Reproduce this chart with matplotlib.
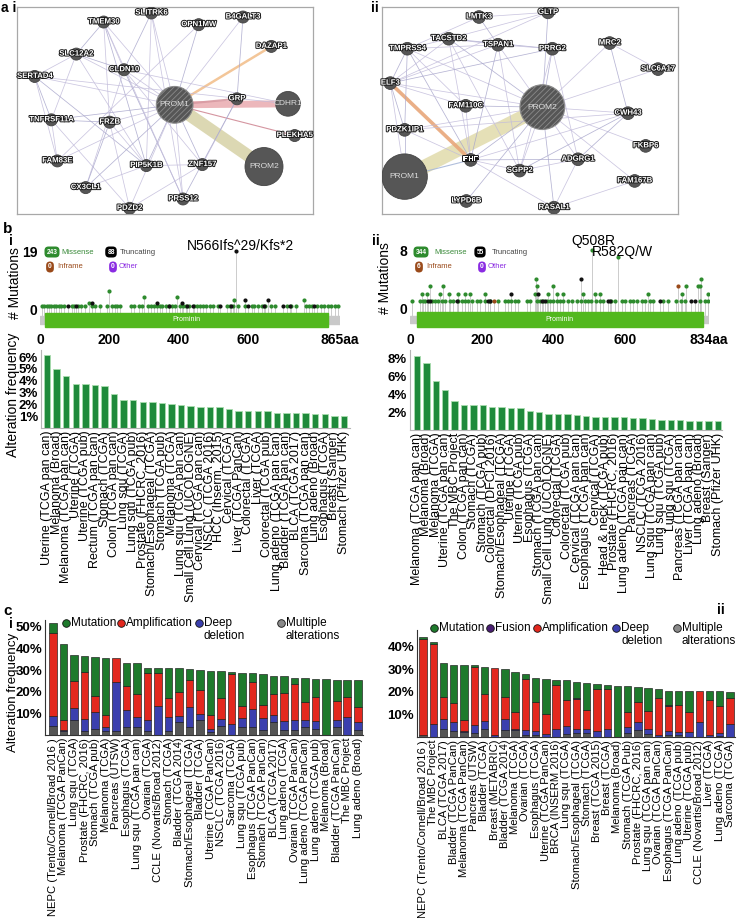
import matplotlib
matplotlib.use('Agg')
import matplotlib.pyplot as plt
import matplotlib.patheffects as pe
from matplotlib.patches import Circle, Rectangle
import numpy as np

plt.rcParams['font.family'] = ['Liberation Sans', 'DejaVu Sans']
plt.rcParams['hatch.linewidth'] = 0.6

# ---------------- DATA ----------------
# a i network (node layout coordinates in the network canvas)
n1_names = ['PROM1', 'PROM2', 'CDHR1', 'GRP', 'PLEKHA5', 'DAZAP1', 'B4GALT3', 'OPN1MW', 'SLITRK6',
            'TMEM30', 'SLC12A2', 'CLDN10', 'SERTAD4', 'TNFRSF11A', 'FRZB', 'FAM83E', 'PIP5K1B',
            'ZNF157', 'CX3CL1', 'PRSS12', 'PDZD2']
n1_x = [525, 793, 865, 712, 885, 815, 730, 597, 455, 312, 230, 373, 105, 155, 330, 173, 440, 608, 258, 550, 390]
n1_y = [315, 500, 312, 297, 407, 140, 52, 75, 40, 67, 163, 210, 230, 360, 367, 483, 497, 494, 563, 597, 625]
n1_size = [55, 57, 37, 18, 18, 18, 18, 18, 18, 18, 18, 18, 18, 18, 18, 18, 18, 18, 18, 18, 18]
n1_edges = [('TMEM30', 'SLC12A2'), ('TMEM30', 'FRZB'), ('TMEM30', 'PROM1'), ('TMEM30', 'PIP5K1B'),
            ('TMEM30', 'CLDN10'), ('SLITRK6', 'PROM1'), ('SLITRK6', 'CLDN10'), ('SLITRK6', 'PIP5K1B'),
            ('SLITRK6', 'PRSS12'), ('OPN1MW', 'PROM1'), ('OPN1MW', 'FAM83E'), ('B4GALT3', 'PROM1'),
            ('B4GALT3', 'GRP'), ('SLC12A2', 'SERTAD4'), ('SLC12A2', 'TNFRSF11A'), ('SLC12A2', 'CLDN10'),
            ('SLC12A2', 'PIP5K1B'), ('SLC12A2', 'PROM1'), ('SERTAD4', 'TNFRSF11A'), ('SERTAD4', 'FAM83E'),
            ('SERTAD4', 'PROM1'), ('SERTAD4', 'PIP5K1B'), ('CLDN10', 'PROM1'), ('CLDN10', 'CDHR1'),
            ('CLDN10', 'PRSS12'), ('CLDN10', 'CX3CL1'), ('CLDN10', 'ZNF157'), ('TNFRSF11A', 'PROM1'),
            ('TNFRSF11A', 'FAM83E'), ('TNFRSF11A', 'PDZD2'), ('TNFRSF11A', 'FRZB'), ('FRZB', 'PROM1'),
            ('FRZB', 'PIP5K1B'), ('FRZB', 'CX3CL1'), ('FRZB', 'PDZD2'), ('FAM83E', 'PROM1'),
            ('PIP5K1B', 'PROM1'), ('PIP5K1B', 'ZNF157'), ('PIP5K1B', 'CX3CL1'), ('ZNF157', 'PROM1'),
            ('ZNF157', 'GRP'), ('PRSS12', 'PROM1'), ('PRSS12', 'GRP'), ('PDZD2', 'PROM1'),
            ('PDZD2', 'ZNF157'), ('CX3CL1', 'PROM1'), ('SERTAD4', 'CDHR1'), ('TMEM30', 'PRSS12')]
n1_special = [('PROM1', 'PROM2', '#d9d4ab', 9.0), ('PROM1', 'CDHR1', '#eab0b4', 5.0),
              ('PROM1', 'GRP', '#d89aa2', 1.5), ('PROM1', 'PLEKHA5', '#d08a96', 0.8),
              ('PROM1', 'DAZAP1', '#f2c08e', 1.8)]

# a ii network
n2_names = ['PROM2', 'PROM1', 'GLTP', 'LMTK3', 'TACSTD2', 'TMPRSS4', 'TSPAN1', 'PRRG2', 'MRC2', 'SLC6A17',
            'ELF3', 'FAM110C', 'CWH43', 'PDZK1IP1', 'FKBP6', 'EHF', 'ADGRG1', 'SGPP2', 'FAM167B',
            'LYPD6B', 'RASAL1']
n2_x = [518, 105, 535, 328, 237, 113, 385, 548, 720, 865, 62, 288, 775, 105, 828, 303, 625, 450, 795, 290, 553]
n2_y = [322, 530, 38, 52, 117, 147, 135, 147, 130, 208, 250, 318, 340, 390, 438, 480, 478, 512, 543, 603, 623]
n2_size = [67, 68, 19, 19, 19, 19, 19, 19, 19, 19, 19, 19, 19, 19, 19, 19, 19, 19, 19, 19, 19]
n2_edges = [('TMPRSS4', 'ELF3'), ('TMPRSS4', 'TACSTD2'), ('TMPRSS4', 'TSPAN1'), ('TMPRSS4', 'EHF'),
            ('TMPRSS4', 'PROM2'), ('TMPRSS4', 'FAM110C'), ('TMPRSS4', 'PDZK1IP1'), ('TACSTD2', 'TSPAN1'),
            ('TACSTD2', 'ELF3'), ('TACSTD2', 'PROM2'), ('TACSTD2', 'EHF'), ('TACSTD2', 'SGPP2'),
            ('TACSTD2', 'PRRG2'), ('TSPAN1', 'PROM2'), ('TSPAN1', 'SGPP2'), ('TSPAN1', 'EHF'),
            ('TSPAN1', 'ELF3'), ('TSPAN1', 'PRRG2'), ('TSPAN1', 'LMTK3'), ('LMTK3', 'GLTP'),
            ('LMTK3', 'TMPRSS4'), ('GLTP', 'PROM2'), ('GLTP', 'TACSTD2'), ('GLTP', 'ELF3'),
            ('PRRG2', 'PROM2'), ('PRRG2', 'ADGRG1'), ('PRRG2', 'SGPP2'), ('PRRG2', 'ELF3'),
            ('MRC2', 'SLC6A17'), ('MRC2', 'PROM2'), ('MRC2', 'CWH43'), ('SLC6A17', 'PROM2'),
            ('ELF3', 'PROM2'), ('ELF3', 'PDZK1IP1'), ('ELF3', 'FAM110C'), ('ELF3', 'PROM1'),
            ('FAM110C', 'PROM2'), ('FAM110C', 'EHF'), ('PROM2', 'CWH43'), ('PROM2', 'EHF'),
            ('PROM2', 'SGPP2'), ('PROM2', 'ADGRG1'), ('PROM2', 'RASAL1'), ('PROM2', 'FKBP6'),
            ('PROM2', 'FAM167B'), ('PROM2', 'LYPD6B'), ('PROM2', 'PDZK1IP1'), ('PDZK1IP1', 'EHF'),
            ('PDZK1IP1', 'PROM1'), ('EHF', 'SGPP2'), ('EHF', 'RASAL1'), ('EHF', 'ADGRG1'),
            ('EHF', 'CWH43'), ('SGPP2', 'ADGRG1'), ('ADGRG1', 'CWH43'), ('ADGRG1', 'RASAL1'),
            ('RASAL1', 'FAM167B'), ('CWH43', 'SGPP2'), ('PDZK1IP1', 'CWH43')]
n2_special = [('PROM1', 'PROM2', '#e3ddb0', 10.0), ('ELF3', 'EHF', '#e8a77a', 2.6),
              ('EHF', 'PROM1', '#a8b8d8', 0.8)]

# b i lollipop (PROM1, 865 aa)
b1_length = 865
b1_domain = (15, 830)
b1_mis_pos = [5, 12, 19, 26, 33, 40, 47, 54, 61, 70, 91, 98, 110, 118, 130, 140, 150, 160, 172, 192, 200,
              207, 215, 222, 230, 262, 270, 285, 295, 300, 312, 320, 328, 336, 345, 352, 362, 372, 380, 388,
              395, 405, 412, 420, 430, 445, 452, 460, 470, 480, 490, 500, 512, 540, 548, 556, 560, 570, 590,
              610, 618, 630, 640, 650, 665, 678, 712, 725, 738, 760, 768, 775, 785, 800, 810, 820, 830,
              840, 850, 858]
b1_mis_cnt = [1, 1, 1, 1, 1, 1, 1, 1, 1, 1, 1, 1, 1, 1, 1, 2, 1, 1, 1, 1, 6,
              1, 1, 1, 1, 1, 1, 1, 1, 4, 1, 1, 1, 1, 1, 1, 1, 1, 1, 1,
              4, 1, 1, 1, 1, 1, 1, 1, 1, 1, 1, 1, 1, 1, 1, 1, 3, 1, 1,
              1, 1, 1, 1, 1, 1, 1, 1, 1, 1, 3, 1, 1, 1, 1, 1, 1, 1,
              1, 1, 1]
b1_trunc_pos = [80, 103, 150, 338, 372, 410, 425, 440, 520, 550, 566, 590, 600, 645, 658, 700, 720, 790]
b1_trunc_cnt = [1, 1, 2, 2, 1, 2, 1, 1, 1, 1, 19, 3, 1, 1, 3, 1, 1, 1]

# b ii lollipop (PROM2, 834 aa)
b2_length = 834
b2_domain = (19, 817)
b2_mis_pos = [5, 28, 33, 35, 42, 48, 56, 60, 70, 79, 84, 88, 93, 98, 110, 111, 121, 135, 135, 144, 153, 153,
              163, 167, 172, 186, 195, 209, 209, 223, 246, 265, 274, 283, 293, 302, 325, 334, 348, 351, 353,
              353, 362, 372, 381, 386, 390, 399, 399, 409, 409, 418, 427, 427, 441, 451, 465, 478, 483, 488,
              497, 506, 508, 516, 520, 530, 530, 539, 562, 571, 580, 590, 599, 613, 622, 632, 646, 655, 664,
              669, 678, 706, 720, 743, 757, 759, 766, 771, 804, 808, 810, 813, 822, 830, 830]
b2_mis_cnt = [1, 1, 2, 1, 1, 2, 3, 1, 1, 1, 2, 1, 3, 1, 2, 1, 1, 1, 2, 1, 1, 2,
              1, 2, 1, 1, 1, 1, 2, 1, 1, 1, 1, 1, 1, 1, 1, 1, 2, 4, 1,
              3, 1, 1, 1, 2, 1, 1, 3, 1, 2, 1, 1, 2, 1, 1, 1, 1, 2, 1,
              1, 1, 8, 2, 1, 1, 2, 1, 1, 1, 7, 1, 1, 1, 1, 1, 1, 1, 2,
              1, 1, 1, 1, 1, 1, 2, 1, 3, 3, 1, 3, 4, 1, 1, 2]
b2_trunc_pos = [51, 56, 130, 218, 223, 283, 358, 367, 376, 476, 553, 557, 697, 785, 794]
b2_trunc_cnt = [1, 1, 1, 1, 1, 2, 2, 1, 1, 4, 1, 1, 1, 1, 1]
b2_infr_pos = [235, 748]
b2_infr_cnt = [1, 3]

# b i bars (PROM1 alteration frequency, %)
b1_cats = ['Uterine (TCGA pan can)', 'Melanoma (Broad)', 'Melanoma (TCGA pan can)', 'Uterine (TCGA)',
           'Uterine (TCGA pub)', 'Rectum (TCGA pan can)', 'Stomach (TCGA)', 'Colon (TCGA pan can)',
           'Lung squ (TCGA)', 'Lung squ (TCGA pub)', 'Prostate (FHCRC, 2016)', 'Stomach/Esophageal (TCGA)',
           'Stomach (TCGA pub)', 'Melanoma (TCGA)', 'Lung squ (TCGA pan can)', 'Small Cell Lung (UCOLOGNE)',
           'Cervical (TCGA pan can)', 'NSCLC (TCGA 2016)', 'HCC (Inserm, 2015)', 'Cervical (TCGA)',
           'Liver (TCGA PanCan)', 'Colorectal (TCGA)', 'Liver (TCGA)', 'Colorectal (TCGA pub)',
           'Lung adeno (TCGA pan can)', 'Bladder (TCGA pan can)', 'BLCA (TCGA 2017)',
           'Sarcoma (TCGA pan can)', 'Lung adeno (Broad)', 'Esophagus (TCGA)', 'Breast (Sanger)',
           'Stomach (Pfizer UHK)']
b1_vals = [6.2, 5.0, 4.4, 3.7, 3.7, 3.65, 3.55, 2.9, 2.35, 2.35, 2.2, 2.2, 2.15, 2.0, 1.95, 1.9, 1.8, 1.75,
           1.75, 1.6, 1.4, 1.4, 1.4, 1.4, 1.3, 1.3, 1.3, 1.3, 1.2, 1.15, 1.05, 1.05]

# b ii bars (PROM2 alteration frequency, %)
b2_cats = ['Melanoma (TCGA pan can)', 'Melanoma (Broad)', 'Melanoma (TCGA)', 'Uterine (TCGA pan can)',
           'The MBC Project', 'Colon (TCGA pan can)', 'Stomach (TCGA)', 'Stomach (TCGA pub)',
           'Colorectal (DFCI 2016)', 'Stomach/Esophageal (TCGA)', 'Uterine (TCGA)', 'Uterine (TCGA pub)',
           'Esophagus (TCGA)', 'Stomach (TCGA pan can)', 'Small Cell Lung (UCOLOGNE)', 'Colorectal (TCGA)',
           'Colorectal (TCGA pub)', 'Cervical (TCGA pan can)', 'Esophagus (TCGA pan can)', 'Cervical (TCGA)',
           'Head & neck (TCGA pub)', 'Prostate (FHCRC, 2016)', 'Lung adeno (TCGA pan can)',
           'Pancreas (TCGA)', 'NSCLC (TCGA 2016)', 'Lung squ (TCGA pan can)', 'Lung squ (TCGA pub)',
           'Lung squ (TCGA)', 'Pancreas (TCGA pan can)', 'Liver (TCGA pan can)', 'Lung adeno (Broad)',
           'Breast (Sanger)', 'Stomach (Pfizer UHK)']
b2_vals = [8.2, 7.4, 5.4, 4.4, 3.2, 2.8, 2.8, 2.8, 2.6, 2.55, 2.45, 2.45, 2.15, 2.05, 1.8, 1.75, 1.75, 1.7,
           1.6, 1.5, 1.4, 1.4, 1.4, 1.3, 1.3, 1.2, 1.1, 1.1, 1.1, 1.05, 1.05, 1.0, 0.95]

# c i stacked bars (%)
c1_cats = ['NEPC (Trento/Cornell/Broad 2016 )', 'Melanoma (TCGA PanCan)', 'Lung squ (TCGA)',
           'Prostate (FHCRC, 2016)', 'Stomach (TCGA pub)', 'Melanoma (TCGA)', 'Pancreas (UTSW)',
           'Esophagus (TCGA)', 'Lung squ (TCGA pan can)', 'Ovarian (TCGA)', 'CCLE (Novartis/Broad 2012)',
           'Stomach (TCGA)', 'Bladder (TCGA 2014)', 'Stomach/Esophageal (TCGA)', 'Bladder (TCGA)',
           'Uterine (TCGA PanCan)', 'NSCLC (TCGA 2016)', 'Sarcoma (TCGA)', 'Lung squ (TCGA pub)',
           'Esophagus (TCGA PanCan)', 'Stomach (TCGA PanCan)', 'BLCA (TCGA 2017)', 'Lung adeno (TCGA)',
           'Ovarian (TCGA PanCan)', 'Lung adeno (TCGA PanCan)', 'Lung adeno (TCGA pub)',
           'Melanoma (Broad)', 'Bladder (TCGA PanCan)', 'The MBC Project', 'Lung adeno (Broad)']
c1_multiple = [4.2, 1.8, 7.0, 1.8, 2.8, 2.0, 2.0, 3.5, 3.6, 2.0, 0.0, 2.0, 6.0, 3.6, 6.9, 1.5, 4.0, 0.0,
               3.8, 3.5, 2.3, 5.8, 2.3, 2.3, 3.6, 3.0, 0.0, 3.6, 0.0, 2.3]
c1_deepdel = [4.6, 0.5, 5.6, 5.6, 7.7, 1.5, 22.3, 8.0, 4.9, 4.9, 13.5, 6.5, 2.8, 9.2, 2.8, 1.5, 3.4, 5.0,
              3.9, 8.3, 5.4, 3.4, 4.2, 4.7, 3.4, 3.6, 0.0, 3.3, 8.5, 3.5]
c1_amp = [38.6, 4.6, 12.4, 21.8, 7.5, 5.7, 11.4, 11.1, 10.4, 21.6, 15.4, 8.4, 11.2, 12.6, 11.1, 6.2, 9.5,
          23.2, 5.7, 12.7, 6.3, 9.8, 12.7, 16.4, 8.4, 11.1, 0.0, 8.9, 9.2, 7.0]
c1_mut = [4.6, 35.1, 11.9, 7.4, 18.2, 26.5, 0.0, 10.9, 14.5, 2.7, 2.2, 13.9, 10.8, 5.1, 9.2, 20.5, 12.6,
          1.0, 15.1, 4.0, 14.0, 8.2, 8.0, 3.2, 11.2, 8.1, 25.8, 9.6, 7.7, 12.6]

# c ii stacked bars (%)
c2_cats = ['NEPC (Trento/Cornell/Broad 2016 )', 'The MBC Project', 'BLCA (TCGA 2017)',
           'Bladder (TCGA PanCan)', 'Melanoma (TCGA PanCan)', 'Pancreas (UTSW)', 'Bladder (TCGA)',
           'Breast (METABRIC)', 'Bladder (TCGA 2014)', 'Melanoma (TCGA)', 'Ovarian (TCGA)',
           'Esophagus (TCGA)', 'Uterine (TCGA PanCan)', 'BRCA (INSERM 2016)', 'Lung squ (TCGA)',
           'Stomach/Esophageal (TCGA)', 'Stomach (TCGA)', 'Breast (TCGA 2015)', 'Breast (TCGA)',
           'Melanoma (Broad)', 'Stomach (TCGA Pub)', 'Prostate (FHCRC, 2016)', 'Lung squ (TCGA pan can)',
           'Ovarian (TCGA PanCan)', 'Esophagus (TCGA PanCan)', 'Lung adeno (TCGA pub)',
           'Uterine (TCGA pub)', 'CCLE (Novartis/Broad 2012)', 'Liver (TCGA)', 'Lung adeno (TCGA)',
           'Sarcoma (TCGA)']
c2_multiple = [1.0, 0.0, 3.7, 2.5, 2.0, 1.9, 3.4, 0.0, 3.3, 3.0, 1.0, 1.0, 0.0, 0.0, 1.5, 1.8, 1.8, 0.0,
               0.0, 0.0, 1.9, 3.0, 1.5, 0.0, 1.0, 0.7, 0.0, 0.0, 0.0, 0.4, 0.0]
c2_deepdel = [0.0, 5.7, 4.1, 4.2, 0.5, 3.6, 3.6, 0.7, 4.5, 0.7, 2.0, 1.5, 1.5, 3.7, 3.3, 1.9, 1.9, 2.5,
              3.7, 0.0, 2.6, 3.7, 2.2, 1.0, 1.7, 1.5, 2.2, 6.7, 0.7, 1.5, 5.7]
c2_amp = [42.7, 35.6, 10.1, 8.5, 5.0, 25.5, 12.0, 29.9, 10.1, 7.2, 22.7, 13.2, 8.6, 19.4, 11.6, 13.2, 8.2,
          18.7, 17.5, 0.0, 6.7, 8.7, 7.9, 16.5, 11.2, 12.0, 9.0, 13.9, 15.7, 11.8, 11.8]
c2_fusion = [0.0, 0.0, 0.0, 0.0, 0.0, 0.0, 0.0, 0.0, 0.0, 0.0, 0.0, 0.0, 0.0, 0.0, 0.0, 0.4, 0.0, 0.0,
             0.0, 0.0, 0.0, 0.0, 0.0, 0.0, 0.4, 0.0, 0.0, 0.0, 0.0, 0.0, 0.0]
c2_mut = [0.8, 0.9, 14.9, 16.9, 24.3, 0.8, 12.2, 0.0, 12.4, 17.9, 2.2, 10.7, 15.7, 2.0, 8.7, 7.1, 12.0, 2.2,
          1.9, 22.8, 11.6, 7.0, 10.0, 3.7, 6.3, 6.4, 9.4, 0.0, 4.0, 6.7, 2.4]

# ---------------- STYLE ----------------
W, H = 738, 918
fig = plt.figure(figsize=(W / 100, H / 100), dpi=100)


def fax(x0, y0, x1, y1):
    return fig.add_axes([x0 / W, 1 - y1 / H, (x1 - x0) / W, (y1 - y0) / H])


NODE = '#565656'
EDGE = '#c2bcdb'


def network(ax, names, xs, ys, sizes, edges, special, box, hatched):
    pos = {n: (x, y) for n, x, y in zip(names, xs, ys)}
    ax.set_xlim(box[0], box[1])
    ax.set_ylim(box[3], box[2])
    ax.set_xticks([])
    ax.set_yticks([])
    for s in ax.spines.values():
        s.set_color('#a8a8a8')
        s.set_linewidth(0.9)
    for a, b, col, lw in special:
        ax.plot([pos[a][0], pos[b][0]], [pos[a][1], pos[b][1]], color=col, lw=lw,
                solid_capstyle='butt', zorder=1, alpha=0.9)
    for i, (a, b) in enumerate(edges):
        col = EDGE if i % 3 else '#a9a7cc'
        ax.plot([pos[a][0], pos[b][0]], [pos[a][1], pos[b][1]], color=col, lw=0.55, zorder=1.5, alpha=0.85)
    for n, x, y, r in zip(names, xs, ys, sizes):
        big = r > 30
        if n == hatched:
            c = Circle((x, y), r, facecolor=NODE, edgecolor='#8a8a8a', hatch='//////', lw=0.8, zorder=3)
        else:
            c = Circle((x, y), r, facecolor=NODE, edgecolor='#444444', lw=0.6, zorder=3)
        ax.add_patch(c)
        if big:
            ax.text(x, y, n, ha='center', va='center', fontsize=6, color='#dddddd', zorder=4)
        else:
            ax.text(x, y, n, ha='center', va='center', fontsize=5.6, color='white', fontweight='bold',
                    zorder=4, path_effects=[pe.withStroke(linewidth=1.4, foreground='#1a1a1a')])


ax = fax(17, 7, 313, 214)
network(ax, n1_names, n1_x, n1_y, n1_size, n1_edges, n1_special, (52, 940, 22, 642), 'PROM1')
ax = fax(382, 7, 678, 214)
network(ax, n2_names, n2_x, n2_y, n2_size, n2_edges, n2_special, (37, 925, 22, 642), 'PROM2')

MIS = '#2e8b2e'
TRU = '#111111'
INF = '#9a4a1a'


def lollipop(ax, length, ylim, yticks, domain, bb, series):
    ax.set_xlim(0, length)
    ax.set_ylim(*ylim)
    for s in ax.spines.values():
        s.set_visible(False)
    ax.add_patch(Rectangle((0, bb[0]), length, bb[1] - bb[0], color='#c9c9c9', zorder=1))
    ax.add_patch(Rectangle((domain[0], domain[2]), domain[1] - domain[0], domain[3] - domain[2],
                           color='#52b81e', zorder=2))
    ax.text((domain[0] + domain[1]) / 2, (domain[2] + domain[3]) / 2, 'Prominin', color='white',
            fontsize=5, ha='center', va='center', zorder=3)
    for pos, cnt, col in series:
        for p, c in zip(pos, cnt):
            ax.plot([p, p], [bb[1], c], color='#c4c4c4', lw=0.6, zorder=0.5)
    for pos, cnt, col in series:
        ax.scatter(pos, cnt, s=9, color=col, zorder=4, linewidths=0)
    ax.set_yticks(yticks)
    ax.set_yticklabels([str(t) for t in yticks], fontsize=10, fontweight='bold')
    ticks = [0, 200, 400, 600, length]
    ax.set_xticks(ticks)
    ax.set_xticklabels(['0', '200', '400', '600', f'{length}aa'], fontsize=10, fontweight='bold')
    ax.tick_params(length=0, pad=2)
    ax.tick_params(axis='x', pad=3)


ax = fax(40, 245, 340, 329)
lollipop(ax, b1_length, (-6.56, 21), [0, 19], (b1_domain[0], b1_domain[1], -5.9, -1.3), (-4.9, -2.3),
         [(b1_mis_pos, b1_mis_cnt, MIS), (b1_trunc_pos, b1_trunc_cnt, TRU)])
ax = fax(410, 245, 709, 329)
lollipop(ax, b2_length, (-2.9, 8.7), [0, 8], (b2_domain[0], b2_domain[1], -2.66, -0.5), (-2.1, -1.1),
         [(b2_mis_pos, b2_mis_cnt, MIS), (b2_trunc_pos, b2_trunc_cnt, TRU), (b2_infr_pos, b2_infr_cnt, INF)])


def freqbars(ax, cats, vals, xlim, ylim, yticks):
    x = np.arange(len(cats))
    ax.bar(x, vals, width=0.68, color='#1f8a3b', edgecolor='#a9dcae', linewidth=0.6)
    ax.set_xlim(*xlim)
    ax.set_ylim(*ylim)
    ax.set_xticks(x)
    ax.set_xticklabels(cats, rotation=90, fontsize=9)
    ax.set_yticks(yticks)
    ax.set_yticklabels([f'{t}%' for t in yticks], fontsize=9.5, fontweight='bold')
    ax.tick_params(length=0, pad=2)
    for s in ['top', 'right']:
        ax.spines[s].set_visible(False)
    for s in ['left', 'bottom']:
        ax.spines[s].set_color('#b5b5b5')
        ax.spines[s].set_linewidth(0.8)


ax = fax(41, 350, 350, 428)
freqbars(ax, b1_cats, b1_vals, (-0.63, 31.63), (0, 6.6), [1, 2, 3, 4, 5, 6])
ax = fax(410, 350, 722, 430)
freqbars(ax, b2_cats, b2_vals, (-0.74, 32.45), (0, 8.9), [2, 4, 6, 8])

C_MUT = '#1e7a2c'
C_FUS = '#4a1f73'
C_AMP = '#e3281e'
C_DEL = '#3b3fae'
C_MUL = '#555555'


def stacked(ax, cats, layers, xlim, ylim, yticks):
    x = np.arange(len(cats))
    bottom = np.zeros(len(cats))
    for vals, col in layers:
        vals = np.asarray(vals, dtype=float)
        m = vals > 0
        ax.bar(x[m], vals[m], bottom=bottom[m], width=0.72, color=col, edgecolor='#1a1a1a', linewidth=0.45)
        bottom = bottom + vals
    ax.set_xlim(*xlim)
    ax.set_ylim(*ylim)
    ax.set_xticks(x)
    ax.set_xticklabels(cats, rotation=90, fontsize=8.1)
    ax.set_yticks(yticks)
    ax.set_yticklabels([f'{t}%' for t in yticks], fontsize=9.5, fontweight='bold')
    ax.tick_params(length=0, pad=2)
    for s in ['top', 'right']:
        ax.spines[s].set_visible(False)
    for s in ['left', 'bottom']:
        ax.spines[s].set_color('#333333')
        ax.spines[s].set_linewidth(0.8)


ax = fax(45, 620, 363, 735)
stacked(ax, c1_cats, [(c1_multiple, C_MUL), (c1_deepdel, C_DEL), (c1_amp, C_AMP), (c1_mut, C_MUT)],
        (-0.76, 29.5), (0, 53.2), [10, 20, 30, 40, 50])
ax = fax(417, 630, 735, 737)
stacked(ax, c2_cats, [(c2_multiple, C_MUL), (c2_deepdel, C_DEL), (c2_amp, C_AMP), (c2_fusion, C_FUS),
                      (c2_mut, C_MUT)],
        (-0.6, 30.5), (0, 47.5), [10, 20, 30, 40])

# ---------------- overlay annotations (pixel coordinates) ----------------
ov = fig.add_axes([0, 0, 1, 1])
ov.set_xlim(0, W)
ov.set_ylim(H, 0)
ov.axis('off')

ov.text(1, 8, 'a i', fontsize=10, fontweight='bold', va='center')
ov.text(371, 8, 'ii', fontsize=10, fontweight='bold', va='center')
ov.text(3, 229, 'b', fontsize=11, fontweight='bold', va='center')
ov.text(9, 241, 'i', fontsize=10, fontweight='bold', va='center')
ov.text(372, 241, 'ii', fontsize=10, fontweight='bold', va='center')
ov.text(3, 611, 'c', fontsize=11, fontweight='bold', va='center')
ov.text(9, 624, 'i', fontsize=10, fontweight='bold', va='center')
ov.text(717, 610, 'ii', fontsize=10, fontweight='bold', va='center')

ov.text(15, 283, '# Mutations', rotation=90, fontsize=10, ha='center', va='center')
ov.text(385, 278, '# Mutations', rotation=90, fontsize=10, ha='center', va='center')
ov.text(13, 395, 'Alteration frequency', rotation=90, fontsize=10, ha='center', va='center')
ov.text(13, 692, 'Alteration frequency', rotation=90, fontsize=9.6, ha='center', va='center')

ov.text(241, 246, 'N566Ifs^29/Kfs*2', fontsize=10, ha='center', va='center')
ov.text(593, 241, 'Q508R', fontsize=10, ha='center', va='center')
ov.text(622, 252, 'R582Q/W', fontsize=10, ha='center', va='center')


def pill(x, y, txt, col):
    ov.text(x, y, txt, fontsize=4.8, color='white', ha='center', va='center', fontweight='bold',
            bbox=dict(boxstyle='round,pad=0.3,rounding_size=0.6', fc=col, ec='none'))


for (x0, lab) in [(0, ('243', '88', '0', '0')), (370, ('344', '55', '6', '0'))]:
    dx = 0 if x0 == 0 else 369
    pill(52 + dx, 252, lab[0], '#2e8b2e')
    ov.text(61 + dx + (4 if x0 else 0), 252, 'Missense', fontsize=5.5, color='#3a8a3a', va='center')
    pill(111 + dx, 252, lab[1], '#000000')
    ov.text(120 + dx + (3 if x0 else 0), 252, 'Truncating', fontsize=5.5, color='#444444', va='center')
    pill(50 + dx, 267, lab[2], '#9a4a1a')
    ov.text(57 + dx, 267, 'Inframe', fontsize=5.5, color='#9a4a1a', va='center')
    pill(113 + dx, 267, lab[3], '#8a2be2')
    ov.text(119 + dx, 267, 'Other', fontsize=5.5, color='#8a2be2', va='center')


def legend_item(x, y, col, lines):
    ov.scatter([x], [y], s=30, color=col, edgecolors='#111111', linewidths=0.6, zorder=5)
    for k, t in enumerate(lines):
        ov.text(x + 5, y + k * 13, t, fontsize=8.5, va='center', ha='left')


legend_item(66, 623, C_MUT, ['Mutation'])
legend_item(121, 623, C_AMP, ['Amplification'])
legend_item(199, 623, C_DEL, ['Deep', 'deletion'])
legend_item(281, 623, '#8a8a8a', ['Multiple', 'alterations'])

legend_item(434, 628, C_MUT, ['Mutation'])
legend_item(490, 628, C_FUS, ['Fusion'])
legend_item(537, 628, C_AMP, ['Amplification'])
legend_item(616, 628, C_DEL, ['Deep', 'deletion'])
legend_item(677, 628, '#8a8a8a', ['Multiple', 'alterations'])

fig.savefig('out.png', dpi=100)
